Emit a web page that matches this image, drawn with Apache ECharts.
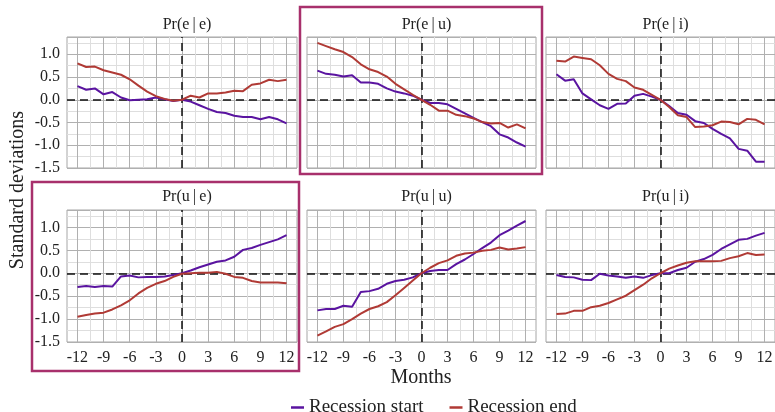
<!DOCTYPE html>
<html>
<head>
<meta charset="utf-8">
<script src="https://cdn.jsdelivr.net/npm/echarts@6/dist/echarts.min.js"></script>
<style>html,body{margin:0;padding:0;background:#fff}#c{width:775px;height:412px}</style>
</head>
<body>
<div id="c"></div>
<script>
const months = [-12,-11,-10,-9,-8,-7,-6,-5,-4,-3,-2,-1,0,1,2,3,4,5,6,7,8,9,10,11,12];
const xTicks = [-12,-9,-6,-3,0,3,6,9,12];
const yTicks = [-1.5,-1.0,-0.5,0.0,0.5,1.0];
const panelTitles = ['Pr(e\u2009|\u2009e)','Pr(e\u2009|\u2009u)','Pr(e\u2009|\u2009i)','Pr(u\u2009|\u2009e)','Pr(u\u2009|\u2009u)','Pr(u\u2009|\u2009i)'];
const seriesNames = ['Recession start','Recession end'];

// Pr(e|e)
const startEE = [0.30,0.22,0.25,0.12,0.17,0.05,-0.01,0.00,0.01,0.05,0.01,-0.03,0.00,-0.04,-0.12,-0.20,-0.27,-0.29,-0.35,-0.38,-0.38,-0.43,-0.38,-0.43,-0.52];
const endEE   = [0.80,0.72,0.73,0.65,0.60,0.55,0.45,0.31,0.18,0.08,0.02,-0.02,0.00,0.09,0.05,0.14,0.14,0.16,0.20,0.19,0.33,0.36,0.44,0.41,0.44];
// Pr(e|u)
const startEU = [0.64,0.57,0.55,0.51,0.54,0.38,0.38,0.35,0.25,0.18,0.14,0.09,0.00,-0.07,-0.07,-0.10,-0.20,-0.30,-0.40,-0.49,-0.58,-0.76,-0.83,-0.94,-1.03];
const endEU   = [1.25,1.18,1.11,1.05,0.94,0.78,0.67,0.61,0.51,0.35,0.23,0.11,0.00,-0.11,-0.24,-0.24,-0.33,-0.36,-0.41,-0.49,-0.52,-0.51,-0.61,-0.54,-0.63];
// Pr(e|i)
const startEI = [0.56,0.42,0.45,0.14,0.01,-0.12,-0.20,-0.09,-0.08,0.09,0.13,0.07,0.00,-0.14,-0.29,-0.33,-0.47,-0.51,-0.64,-0.75,-0.85,-1.08,-1.12,-1.36,-1.36];
const endEI   = [0.86,0.84,0.95,0.92,0.89,0.76,0.57,0.46,0.41,0.27,0.22,0.11,0.00,-0.16,-0.34,-0.38,-0.60,-0.59,-0.56,-0.48,-0.49,-0.54,-0.42,-0.44,-0.54];
// Pr(u|e)
const startUE = [-0.30,-0.28,-0.30,-0.28,-0.29,-0.07,-0.05,-0.09,-0.08,-0.08,-0.07,-0.04,0.00,0.06,0.13,0.19,0.25,0.28,0.36,0.51,0.55,0.62,0.68,0.74,0.83];
const endUE   = [-0.95,-0.91,-0.88,-0.86,-0.79,-0.70,-0.59,-0.44,-0.32,-0.23,-0.17,-0.08,-0.01,0.00,0.01,0.01,0.03,-0.01,-0.08,-0.10,-0.17,-0.20,-0.20,-0.20,-0.22];
// Pr(u|u)
const startUU = [-0.81,-0.78,-0.78,-0.71,-0.73,-0.41,-0.39,-0.34,-0.23,-0.17,-0.14,-0.09,0.00,0.05,0.07,0.07,0.20,0.30,0.42,0.55,0.67,0.83,0.93,1.04,1.14];
const endUU   = [-1.36,-1.27,-1.17,-1.11,-1.00,-0.88,-0.78,-0.72,-0.63,-0.48,-0.32,-0.16,0.00,0.12,0.22,0.28,0.38,0.43,0.45,0.49,0.51,0.56,0.52,0.54,0.57];
// Pr(u|i)
const startUI = [-0.04,-0.08,-0.09,-0.14,-0.15,-0.01,-0.05,-0.07,-0.10,-0.07,-0.10,-0.04,0.00,0.00,0.07,0.12,0.25,0.31,0.40,0.53,0.63,0.73,0.75,0.82,0.88];
const endUI   = [-0.89,-0.88,-0.82,-0.82,-0.74,-0.71,-0.65,-0.57,-0.49,-0.37,-0.25,-0.11,0.00,0.10,0.17,0.23,0.26,0.26,0.26,0.27,0.33,0.37,0.44,0.40,0.41];

const panelStart = [startEE,startEU,startEI,startUE,startUU,startUI];
const panelEnd   = [endEE,endEU,endEI,endUE,endUU,endUI];

const FONT = "'Liberation Serif', 'DejaVu Serif', serif";
const PURPLE = '#5a14a0';
const RED = '#b03a35';
const BOX = '#a8306c';
const MAJOR = '#b0b0b0';
const MINOR = '#dedede';
const T = 'rgba(0,0,0,0)';

const colLeft = [67, 307, 546];
const colWidth = [230, 229, 229];
const rowTop = [37, 210];
const rowHeight = [131, 132];

const grids = [], xAxes = [], yAxes = [], series = [], titles = [];
function near(a, b) { return Math.abs(a - b) < 1e-6; }

for (let p = 0; p < 6; p++) {
  const r = Math.floor(p / 3), c = p % 3;
  grids.push({left: colLeft[c], top: rowTop[r], width: colWidth[c], height: rowHeight[r],
    show: true, borderColor: '#a6a6a6', borderWidth: 1, backgroundColor: '#fff', outerBoundsMode: 'none'});
  xAxes.push({
    type: 'value', gridIndex: p, min: -13.2, max: 13.2, interval: 0.3,
    axisLine: {show: false}, axisTick: {show: false},
    splitLine: {show: true, lineStyle: {width: 1, color: [T,T,T,T,MAJOR,T,T,T,T,MINOR]}},
    axisLabel: {show: r === 1, margin: 8, fontFamily: FONT, fontSize: 16, color: '#222',
      showMinLabel: true, showMaxLabel: true,
      formatter: v => { const m = xTicks.find(t => near(t, v)); return m === undefined ? '' : String(m); }}
  });
  yAxes.push({
    type: 'value', gridIndex: p, min: -1.5, max: 1.38, interval: 0.25,
    axisLine: {show: false}, axisTick: {show: false},
    splitLine: {show: true, lineStyle: {width: 1, color: [MAJOR, MINOR]}},
    axisLabel: {show: c === 0, margin: 7, fontFamily: FONT, fontSize: 16, color: '#222', showMaxLabel: false,
      formatter: v => { const m = yTicks.find(t => near(t, v)); return m === undefined ? '' : m.toFixed(1); }}
  });
  titles.push({text: panelTitles[p], left: colLeft[c] + colWidth[c] / 2, top: r === 0 ? 12 : 184,
    textAlign: 'center', textStyle: {fontFamily: FONT, fontSize: 16, fontWeight: 'normal', color: '#222'}});
  series.push({
    name: seriesNames[0], type: 'line', xAxisIndex: p, yAxisIndex: p, symbol: 'none', z: 3,
    lineStyle: {color: PURPLE, width: 2}, itemStyle: {color: PURPLE},
    data: months.map((m, i) => [m, panelStart[p][i]]),
    markLine: {silent: true, symbol: 'none', z: 2, label: {show: false},
      lineStyle: {color: '#111', type: [8, 5], width: 1.5},
      data: [{yAxis: 0}, {xAxis: 0}]}
  });
  series.push({
    name: seriesNames[1], type: 'line', xAxisIndex: p, yAxisIndex: p, symbol: 'none', z: 3,
    lineStyle: {color: RED, width: 2}, itemStyle: {color: RED},
    data: months.map((m, i) => [m, panelEnd[p][i]])
  });
}

const chart = echarts.init(document.getElementById('c'), null, {renderer: 'canvas'});
chart.setOption({
  animation: false,
  backgroundColor: '#fff',
  title: titles,
  grid: grids, xAxis: xAxes, yAxis: yAxes, series: series,
  legend: {data: seriesNames, top: 393, left: 286, icon: 'rect', itemWidth: 13, itemHeight: 2.5, itemGap: 26,
    textStyle: {fontFamily: FONT, fontSize: 19, color: '#222'}},
  graphic: [
    {type: 'text', x: 18, y: 190, rotation: Math.PI / 2, style: {text: 'Standard deviations', fontFamily: FONT, fontSize: 20, fill: '#222', align: 'center', verticalAlign: 'middle'}},
    {type: 'text', x: 421, y: 378, style: {text: 'Months', fontFamily: FONT, fontSize: 20, fill: '#222', align: 'center', verticalAlign: 'middle'}},
    {type: 'rect', shape: {x: 300, y: 7, width: 242, height: 167}, style: {fill: null, stroke: BOX, lineWidth: 2.5}, z: 100},
    {type: 'rect', shape: {x: 32, y: 182, width: 267, height: 189}, style: {fill: null, stroke: BOX, lineWidth: 2.5}, z: 100}
  ]
});
</script>
</body>
</html>
